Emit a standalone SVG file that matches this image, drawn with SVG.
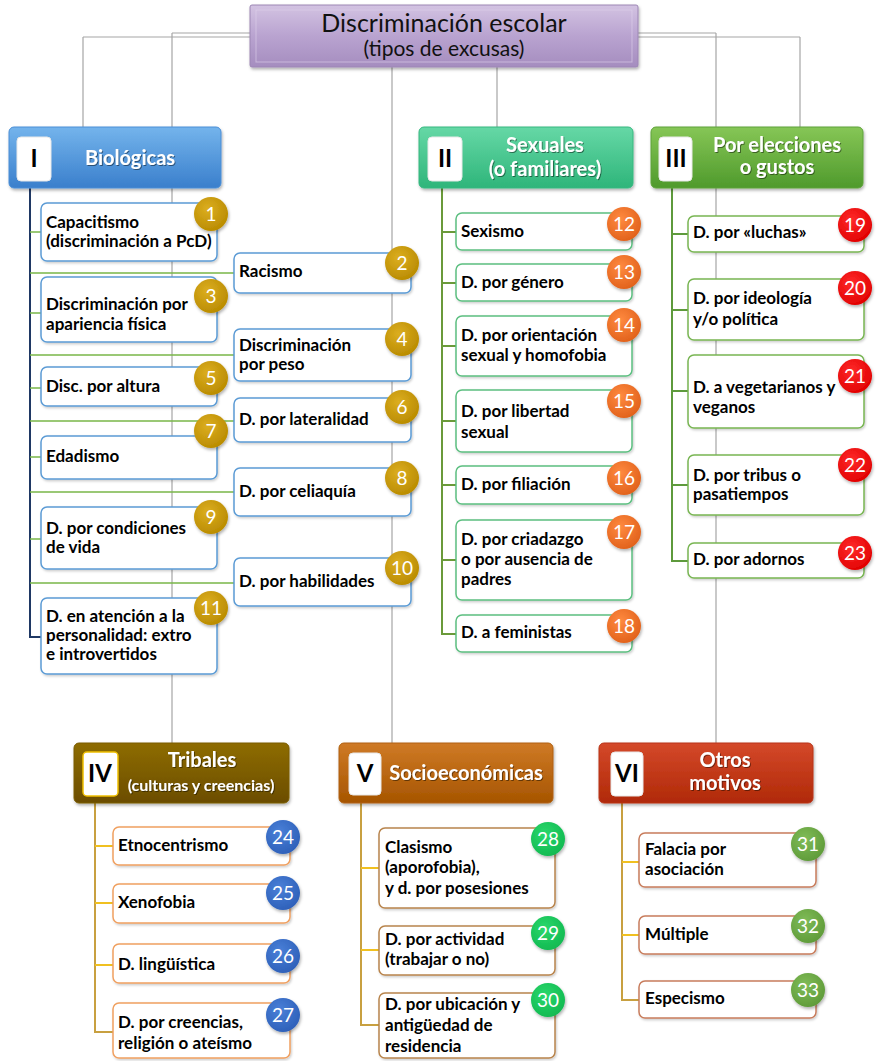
<svg xmlns="http://www.w3.org/2000/svg" width="876" height="1061" viewBox="0 0 876 1061">
<defs>
  <filter id="sh" x="-10%" y="-10%" width="130%" height="140%">
    <feDropShadow dx="1" dy="2" stdDeviation="1.5" flood-color="#000" flood-opacity="0.3"/>
  </filter>
  <filter id="shs" x="-10%" y="-10%" width="130%" height="140%">
    <feDropShadow dx="1" dy="1.5" stdDeviation="1" flood-color="#000" flood-opacity="0.2"/>
  </filter>
  <filter id="tsh" x="-10%" y="-20%" width="130%" height="150%">
    <feDropShadow dx="1" dy="1" stdDeviation="0.6" flood-color="#000" flood-opacity="0.45"/>
  </filter>
  <linearGradient id="gT" x1="0" y1="0" x2="0" y2="1"><stop offset="0" stop-color="#d3c3e2"/><stop offset="0.5" stop-color="#b9a3d0"/><stop offset="1" stop-color="#a58dbf"/></linearGradient>
  <linearGradient id="g1" x1="0" y1="0" x2="0" y2="1"><stop offset="0" stop-color="#74b4ec"/><stop offset="1" stop-color="#3a7fcc"/></linearGradient>
  <linearGradient id="g2" x1="0" y1="0" x2="0" y2="1"><stop offset="0" stop-color="#66d8a6"/><stop offset="1" stop-color="#2eb57a"/></linearGradient>
  <linearGradient id="g3" x1="0" y1="0" x2="0" y2="1"><stop offset="0" stop-color="#86c656"/><stop offset="1" stop-color="#4f9a2c"/></linearGradient>
  <linearGradient id="g4" x1="0" y1="0" x2="0" y2="1"><stop offset="0" stop-color="#8e6c06"/><stop offset="1" stop-color="#6b4d00"/></linearGradient>
  <linearGradient id="g5" x1="0" y1="0" x2="0" y2="1"><stop offset="0" stop-color="#cf7a26"/><stop offset="1" stop-color="#a65500"/></linearGradient>
  <linearGradient id="g6" x1="0" y1="0" x2="0" y2="1"><stop offset="0" stop-color="#d4482a"/><stop offset="1" stop-color="#b02a08"/></linearGradient>
  <radialGradient id="bGold" cx="0.4" cy="0.35" r="0.7"><stop offset="0" stop-color="#dcae20"/><stop offset="1" stop-color="#b88a00"/></radialGradient>
  <radialGradient id="bOr" cx="0.4" cy="0.35" r="0.7"><stop offset="0" stop-color="#ff8a40"/><stop offset="1" stop-color="#e0601a"/></radialGradient>
  <radialGradient id="bRed" cx="0.4" cy="0.35" r="0.7"><stop offset="0" stop-color="#ff2a2a"/><stop offset="1" stop-color="#e00000"/></radialGradient>
  <radialGradient id="bBlue" cx="0.4" cy="0.35" r="0.7"><stop offset="0" stop-color="#4a80d8"/><stop offset="1" stop-color="#2d5fb8"/></radialGradient>
  <radialGradient id="bGrn" cx="0.4" cy="0.35" r="0.7"><stop offset="0" stop-color="#2bd86c"/><stop offset="1" stop-color="#10b850"/></radialGradient>
  <radialGradient id="bOl" cx="0.4" cy="0.35" r="0.7"><stop offset="0" stop-color="#80bc58"/><stop offset="1" stop-color="#5e9a38"/></radialGradient>
  <style>
    text { font-family: Lato, "Open Sans", "Liberation Sans", sans-serif; }
    .it { font-weight: bold; font-size: 17px; fill: #000; }
    .hd { font-weight: bold; font-size: 20px; fill: #fff; text-anchor: middle; }
    .hs { font-weight: bold; font-size: 16px; fill: #fff; text-anchor: middle; }
    .rn { font-weight: bold; font-size: 24px; fill: #000; text-anchor: middle; }
    .bn { font-size: 19px; fill: #fff; text-anchor: middle; }
    .sq { fill: #fff; stroke: #e8e8e8; stroke-width: 1; }
    .gl { stroke: #a6a6a6; stroke-width: 1.2; fill: none; }
    .b1 { fill: #fff; stroke: #5b9bd5; stroke-width: 1.5; }
    .b2 { fill: #fff; stroke: #5cbf80; stroke-width: 1.5; }
    .b3 { fill: #fff; stroke: #78b552; stroke-width: 1.5; }
    .b4 { fill: #fff; stroke: #f0a060; stroke-width: 1.5; }
    .b5 { fill: #fff; stroke: #b8844c; stroke-width: 1.5; }
    .b6 { fill: #fff; stroke: #c87c5c; stroke-width: 1.5; }
  </style>
</defs>
<rect width="876" height="1061" fill="#fff"/>

<g id="connectors">
  <path class="gl" d="M83,37 H800 M172,33 H716 M83,37 V128 M172,33 V743 M392,67 V743 M497,67 V128 M716,33 V743 M800,37 V128"/>
  <path d="M30,188 V637 H41" stroke="#1f3864" stroke-width="2" fill="none"/>
  <path d="M30,232 H41 M30,273 H234 M30,313 H41 M30,355 H234 M30,388 H41 M30,421 H234 M30,457 H41 M30,492 H234 M30,539 H41 M30,583 H234" stroke="#7ab648" stroke-width="1.6" fill="none"/>
  <path d="M442,188 V634 H456 M442,232 H456 M442,283 H456 M442,346 H456 M442,421 H456 M442,485 H456 M442,560 H456" stroke="#6a9a3a" stroke-width="2" fill="none"/>
  <path d="M672,188 V561 H688 M672,234 H688 M672,310 H688 M672,391 H688 M672,485 H688" stroke="#5e9a3c" stroke-width="2" fill="none"/>
  <path d="M95,803 V1032 H113" stroke="#c8a040" stroke-width="2" fill="none"/>
  <path d="M95,846 H113 M95,903 H113 M95,965 H113" stroke="#f0c020" stroke-width="2" fill="none"/>
  <path d="M361,803 V1025 H379" stroke="#c8a040" stroke-width="2" fill="none"/>
  <path d="M361,868 H379 M361,950 H379" stroke="#f0c020" stroke-width="2" fill="none"/>
  <path d="M622,803 V1000 H639" stroke="#c8a040" stroke-width="2" fill="none"/>
  <path d="M622,862 H639 M622,935 H639" stroke="#f0c020" stroke-width="2" fill="none"/>
</g>

<g id="title">
  <rect x="250" y="5" width="388" height="62" rx="2" fill="url(#gT)" stroke="#9c86b4" stroke-width="1" filter="url(#sh)"/>
  <rect x="256" y="10" width="376" height="52" fill="none" stroke="#e0d4ec" stroke-width="1" opacity="0.6"/>
  <text x="444" y="32" text-anchor="middle" font-size="25" fill="#111">Discriminación escolar</text>
  <text x="444" y="56" text-anchor="middle" font-size="21" fill="#111">(tipos de excusas)</text>
</g>

<g id="h1">
  <rect x="9" y="127" width="212" height="61" rx="5" fill="url(#g1)" stroke="#4a8ed6" filter="url(#sh)"/>
  <rect x="17" y="137" width="34" height="44" rx="4" class="sq"/>
  <text x="34" y="167" class="rn">I</text>
  <text x="130" y="165" class="hd" filter="url(#tsh)">Biológicas</text>
</g>
<g id="h2">
  <rect x="419" y="127" width="214" height="61" rx="5" fill="url(#g2)" stroke="#36b880" filter="url(#sh)"/>
  <rect x="428" y="137" width="34" height="44" rx="4" class="sq"/>
  <text x="445" y="167" class="rn">II</text>
  <text x="545" y="152" class="hd" filter="url(#tsh)">Sexuales</text>
  <text x="545" y="176" class="hd" filter="url(#tsh)">(o familiares)</text>
</g>
<g id="h3">
  <rect x="651" y="127" width="212" height="61" rx="5" fill="url(#g3)" stroke="#5ea23a" filter="url(#sh)"/>
  <rect x="659" y="137" width="33" height="44" rx="4" class="sq"/>
  <text x="676" y="167" class="rn">III</text>
  <text x="777" y="152" class="hd" filter="url(#tsh)">Por elecciones</text>
  <text x="777" y="174" class="hd" filter="url(#tsh)">o gustos</text>
</g>
<g id="h4">
  <rect x="74" y="743" width="215" height="60" rx="5" fill="url(#g4)" stroke="#7a5c00" filter="url(#sh)"/>
  <rect x="83" y="752" width="35" height="44" rx="4" fill="#fff" stroke="#f0c000" stroke-width="1.5"/>
  <text x="100" y="782" class="rn">IV</text>
  <text x="202" y="767" class="hd" filter="url(#tsh)">Tribales</text>
  <text x="201" y="791" class="hs" filter="url(#tsh)">(culturas y creencias)</text>
</g>
<g id="h5">
  <rect x="339" y="743" width="214" height="60" rx="5" fill="url(#g5)" stroke="#b06010" filter="url(#sh)"/>
  <rect x="349" y="753" width="32" height="42" rx="4" class="sq"/>
  <text x="365" y="782" class="rn">V</text>
  <text x="466" y="780" class="hd" filter="url(#tsh)">Socioeconómicas</text>
</g>
<g id="h6">
  <rect x="599" y="743" width="214" height="60" rx="5" fill="url(#g6)" stroke="#b83418" filter="url(#sh)"/>
  <rect x="611" y="752" width="32" height="44" rx="4" class="sq"/>
  <text x="627" y="782" class="rn">VI</text>
  <text x="725" y="767" class="hd" filter="url(#tsh)">Otros</text>
  <text x="725" y="790" class="hd" filter="url(#tsh)">motivos</text>
</g>

<g id="n1"><rect x="41" y="203" width="176" height="58" rx="6" class="b1" filter="url(#shs)"/><text class="it"><tspan x="46" y="228">Capacitismo</tspan><tspan x="46" y="247">(discriminación a PcD)</tspan></text><circle cx="211" cy="214" r="17" fill="url(#bGold)" filter="url(#sh)"/><text x="211" y="221" class="bn">1</text></g>
<g id="n2"><rect x="234" y="253" width="177" height="40" rx="6" class="b1" filter="url(#shs)"/><text class="it" x="239" y="277">Racismo</text><circle cx="402" cy="263" r="17" fill="url(#bGold)" filter="url(#sh)"/><text x="402" y="270" class="bn">2</text></g>
<g id="n3"><rect x="41" y="277" width="176" height="65" rx="6" class="b1" filter="url(#shs)"/><text class="it"><tspan x="46" y="310">Discriminación por</tspan><tspan x="46" y="330">apariencia física</tspan></text><circle cx="211" cy="296" r="17" fill="url(#bGold)" filter="url(#sh)"/><text x="211" y="303" class="bn">3</text></g>
<g id="n4"><rect x="234" y="329" width="177" height="52" rx="6" class="b1" filter="url(#shs)"/><text class="it"><tspan x="239" y="351">Discriminación</tspan><tspan x="239" y="370">por peso</tspan></text><circle cx="402" cy="339" r="17" fill="url(#bGold)" filter="url(#sh)"/><text x="402" y="346" class="bn">4</text></g>
<g id="n5"><rect x="41" y="367" width="176" height="39" rx="6" class="b1" filter="url(#shs)"/><text class="it" x="46" y="392">Disc. por altura</text><circle cx="211" cy="378" r="17" fill="url(#bGold)" filter="url(#sh)"/><text x="211" y="385" class="bn">5</text></g>
<g id="n6"><rect x="234" y="398" width="177" height="44" rx="6" class="b1" filter="url(#shs)"/><text class="it" x="239" y="425">D. por lateralidad</text><circle cx="402" cy="407" r="17" fill="url(#bGold)" filter="url(#sh)"/><text x="402" y="414" class="bn">6</text></g>
<g id="n7"><rect x="41" y="436" width="176" height="43" rx="6" class="b1" filter="url(#shs)"/><text class="it" x="46" y="462">Edadismo</text><circle cx="211" cy="431" r="17" fill="url(#bGold)" filter="url(#sh)"/><text x="211" y="438" class="bn">7</text></g>
<g id="n8"><rect x="234" y="468" width="177" height="48" rx="6" class="b1" filter="url(#shs)"/><text class="it" x="239" y="497">D. por celiaquía</text><circle cx="402" cy="478" r="17" fill="url(#bGold)" filter="url(#sh)"/><text x="402" y="485" class="bn">8</text></g>
<g id="n9"><rect x="41" y="507" width="176" height="62" rx="6" class="b1" filter="url(#shs)"/><text class="it"><tspan x="46" y="534">D. por condiciones</tspan><tspan x="46" y="553">de vida</tspan></text><circle cx="211" cy="517" r="17" fill="url(#bGold)" filter="url(#sh)"/><text x="211" y="524" class="bn">9</text></g>
<g id="n10"><rect x="234" y="558" width="177" height="48" rx="6" class="b1" filter="url(#shs)"/><text class="it" x="239" y="587">D. por habilidades</text><circle cx="402" cy="568" r="17" fill="url(#bGold)" filter="url(#sh)"/><text x="402" y="575" class="bn">10</text></g>
<g id="n11"><rect x="41" y="598" width="176" height="76" rx="6" class="b1" filter="url(#shs)"/><text class="it"><tspan x="46" y="622">D. en atención a la</tspan><tspan x="46" y="641">personalidad: extro</tspan><tspan x="46" y="660">e introvertidos</tspan></text><circle cx="211" cy="608" r="17" fill="url(#bGold)" filter="url(#sh)"/><text x="211" y="615" class="bn">11</text></g>

<g id="n12"><rect x="456" y="213" width="176" height="37" rx="6" class="b2" filter="url(#shs)"/><text class="it" x="461" y="237">Sexismo</text><circle cx="624" cy="224" r="17" fill="url(#bOr)" filter="url(#sh)"/><text x="624" y="231" class="bn">12</text></g>
<g id="n13"><rect x="456" y="264" width="176" height="37" rx="6" class="b2" filter="url(#shs)"/><text class="it" x="461" y="288">D. por género</text><circle cx="624" cy="272" r="17" fill="url(#bOr)" filter="url(#sh)"/><text x="624" y="279" class="bn">13</text></g>
<g id="n14"><rect x="456" y="316" width="176" height="60" rx="6" class="b2" filter="url(#shs)"/><text class="it"><tspan x="461" y="341">D. por orientación</tspan><tspan x="461" y="361">sexual y homofobia</tspan></text><circle cx="624" cy="325" r="17" fill="url(#bOr)" filter="url(#sh)"/><text x="624" y="332" class="bn">14</text></g>
<g id="n15"><rect x="456" y="390" width="176" height="62" rx="6" class="b2" filter="url(#shs)"/><text class="it"><tspan x="461" y="417">D. por libertad</tspan><tspan x="461" y="438">sexual</tspan></text><circle cx="624" cy="401" r="17" fill="url(#bOr)" filter="url(#sh)"/><text x="624" y="408" class="bn">15</text></g>
<g id="n16"><rect x="456" y="466" width="176" height="38" rx="6" class="b2" filter="url(#shs)"/><text class="it" x="461" y="490">D. por filiación</text><circle cx="624" cy="478" r="17" fill="url(#bOr)" filter="url(#sh)"/><text x="624" y="485" class="bn">16</text></g>
<g id="n17"><rect x="456" y="520" width="176" height="80" rx="6" class="b2" filter="url(#shs)"/><text class="it"><tspan x="461" y="545">D. por criadazgo</tspan><tspan x="461" y="565">o por ausencia de</tspan><tspan x="461" y="585">padres</tspan></text><circle cx="624" cy="532" r="17" fill="url(#bOr)" filter="url(#sh)"/><text x="624" y="539" class="bn">17</text></g>
<g id="n18"><rect x="456" y="615" width="176" height="37" rx="6" class="b2" filter="url(#shs)"/><text class="it" x="461" y="638">D. a feministas</text><circle cx="624" cy="626" r="17" fill="url(#bOr)" filter="url(#sh)"/><text x="624" y="633" class="bn">18</text></g>

<g id="n19"><rect x="688" y="216" width="176" height="36" rx="6" class="b3" filter="url(#shs)"/><text class="it" x="693" y="238">D. por «luchas»</text><circle cx="855" cy="225" r="17" fill="url(#bRed)" filter="url(#sh)"/><text x="855" y="232" class="bn">19</text></g>
<g id="n20"><rect x="688" y="279" width="176" height="61" rx="6" class="b3" filter="url(#shs)"/><text class="it"><tspan x="693" y="304">D. por ideología</tspan><tspan x="693" y="325">y/o política</tspan></text><circle cx="855" cy="288" r="17" fill="url(#bRed)" filter="url(#sh)"/><text x="855" y="295" class="bn">20</text></g>
<g id="n21"><rect x="688" y="355" width="176" height="73" rx="6" class="b3" filter="url(#shs)"/><text class="it"><tspan x="693" y="393">D. a vegetarianos y</tspan><tspan x="693" y="413">veganos</tspan></text><circle cx="855" cy="376" r="17" fill="url(#bRed)" filter="url(#sh)"/><text x="855" y="383" class="bn">21</text></g>
<g id="n22"><rect x="688" y="455" width="176" height="60" rx="6" class="b3" filter="url(#shs)"/><text class="it"><tspan x="693" y="481">D. por tribus o</tspan><tspan x="693" y="500">pasatiempos</tspan></text><circle cx="855" cy="465" r="17" fill="url(#bRed)" filter="url(#sh)"/><text x="855" y="472" class="bn">22</text></g>
<g id="n23"><rect x="688" y="543" width="176" height="35" rx="6" class="b3" filter="url(#shs)"/><text class="it" x="693" y="565">D. por adornos</text><circle cx="855" cy="553" r="17" fill="url(#bRed)" filter="url(#sh)"/><text x="855" y="560" class="bn">23</text></g>

<g id="n24"><rect x="113" y="827" width="177" height="38" rx="6" class="b4" filter="url(#shs)"/><text class="it" x="118" y="851">Etnocentrismo</text><circle cx="283" cy="837" r="17" fill="url(#bBlue)" filter="url(#sh)"/><text x="283" y="844" class="bn">24</text></g>
<g id="n25"><rect x="113" y="884" width="177" height="39" rx="6" class="b4" filter="url(#shs)"/><text class="it" x="118" y="908">Xenofobia</text><circle cx="283" cy="893" r="17" fill="url(#bBlue)" filter="url(#sh)"/><text x="283" y="900" class="bn">25</text></g>
<g id="n26"><rect x="113" y="944" width="177" height="39" rx="6" class="b4" filter="url(#shs)"/><text class="it" x="118" y="970">D. lingüística</text><circle cx="283" cy="956" r="17" fill="url(#bBlue)" filter="url(#sh)"/><text x="283" y="963" class="bn">26</text></g>
<g id="n27"><rect x="113" y="1003" width="177" height="55" rx="6" class="b4" filter="url(#shs)"/><text class="it"><tspan x="118" y="1028">D. por creencias,</tspan><tspan x="118" y="1049">religión o ateísmo</tspan></text><circle cx="283" cy="1015" r="17" fill="url(#bBlue)" filter="url(#sh)"/><text x="283" y="1022" class="bn">27</text></g>

<g id="n28"><rect x="379" y="828" width="176" height="80" rx="6" class="b5" filter="url(#shs)"/><text class="it"><tspan x="385" y="853">Clasismo</tspan><tspan x="385" y="873">(aporofobia),</tspan><tspan x="385" y="894">y d. por posesiones</tspan></text><circle cx="548" cy="839" r="17" fill="url(#bGrn)" filter="url(#sh)"/><text x="548" y="846" class="bn">28</text></g>
<g id="n29"><rect x="379" y="926" width="176" height="49" rx="6" class="b5" filter="url(#shs)"/><text class="it"><tspan x="385" y="945">D. por actividad</tspan><tspan x="385" y="965">(trabajar o no)</tspan></text><circle cx="548" cy="933" r="17" fill="url(#bGrn)" filter="url(#sh)"/><text x="548" y="940" class="bn">29</text></g>
<g id="n30"><rect x="379" y="993" width="176" height="65" rx="6" class="b5" filter="url(#shs)"/><text class="it"><tspan x="385" y="1010">D. por ubicación y</tspan><tspan x="385" y="1031">antigüedad de</tspan><tspan x="385" y="1052">residencia</tspan></text><circle cx="548" cy="1000" r="17" fill="url(#bGrn)" filter="url(#sh)"/><text x="548" y="1007" class="bn">30</text></g>

<g id="n31"><rect x="639" y="833" width="177" height="54" rx="6" class="b6" filter="url(#shs)"/><text class="it"><tspan x="645" y="855">Falacia por</tspan><tspan x="645" y="875">asociación</tspan></text><circle cx="808" cy="844" r="17" fill="url(#bOl)" filter="url(#sh)"/><text x="808" y="851" class="bn">31</text></g>
<g id="n32"><rect x="639" y="916" width="177" height="38" rx="6" class="b6" filter="url(#shs)"/><text class="it" x="645" y="940">Múltiple</text><circle cx="808" cy="926" r="17" fill="url(#bOl)" filter="url(#sh)"/><text x="808" y="933" class="bn">32</text></g>
<g id="n33"><rect x="639" y="981" width="177" height="37" rx="6" class="b6" filter="url(#shs)"/><text class="it" x="645" y="1004">Especismo</text><circle cx="808" cy="990" r="17" fill="url(#bOl)" filter="url(#sh)"/><text x="808" y="997" class="bn">33</text></g>
</svg>
